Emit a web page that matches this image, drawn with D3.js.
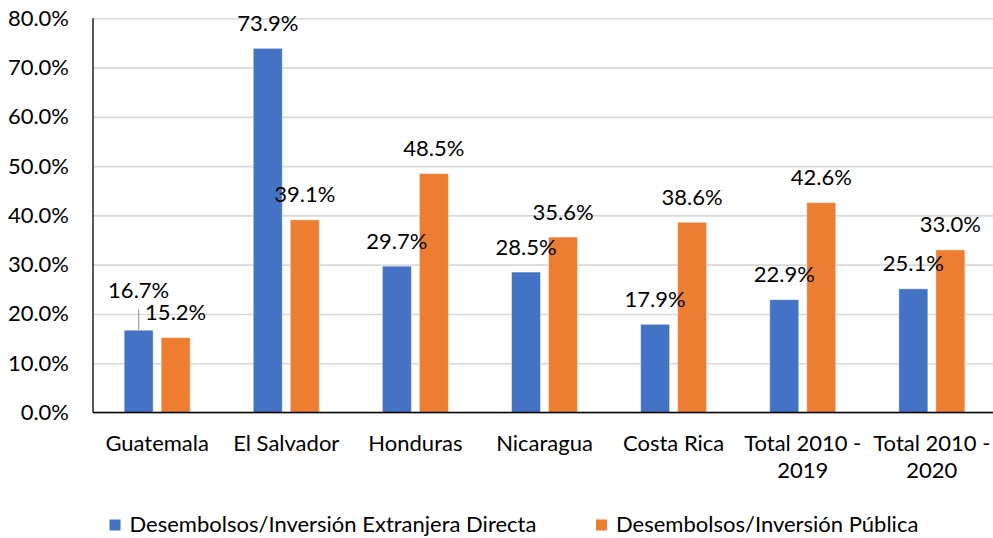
<!DOCTYPE html>
<html>
<head>
<meta charset="utf-8">
<script src="https://cdn.jsdelivr.net/npm/d3@7"></script>
<style>
  html, body { margin: 0; padding: 0; background: #fff; }
  svg { display: block; }
  text { font-family: Lato, "Open Sans", sans-serif; fill: #000; }
</style>
</head>
<body>
<svg id="chart" width="993" height="538"></svg>
<script>
// ---- data ----
const categories = ["Guatemala", "El Salvador", "Honduras", "Nicaragua", "Costa Rica", "Total 2010 - 2019", "Total 2010 - 2020"];
const seriesNames = ["Desembolsos/Inversión Extranjera Directa", "Desembolsos/Inversión Pública"];
const ied = [0.167, 0.739, 0.297, 0.285, 0.179, 0.229, 0.251];
const publica = [0.152, 0.391, 0.485, 0.356, 0.386, 0.426, 0.330];
const yTicks = [0, 0.1, 0.2, 0.3, 0.4, 0.5, 0.6, 0.7, 0.8];

// ---- layout / style ----
const colors = ["#4472C4", "#ED7D31"];
const plot = { left: 93, right: 997, top: 18.3, bottom: 412.5 };
// manual extra lift of some data labels (series index, category index, px)
const labelLift = [{ s: 0, c: 0, px: 14.5 }];

const svg = d3.select("#chart");

const y = d3.scaleLinear().domain([0, 0.8]).range([plot.bottom, plot.top]);
const x0 = d3.scaleBand().domain(categories).range([plot.left - 0.4, plot.right - 0.6]).padding(0);
const x1 = d3.scaleBand().domain([0, 1]).range([-33, 33]).paddingInner(8 / 37).paddingOuter(0);

// gridlines
const grid = svg.append("g")
  .attr("transform", `translate(${plot.left},0)`)
  .call(d3.axisLeft(y).tickValues(yTicks).tickSize(-(plot.right - plot.left)).tickFormat(""));
grid.select(".domain").remove();
grid.selectAll("line").attr("stroke", "#d9d9d9").attr("stroke-width", 1.6);

// y axis labels
const yAxis = svg.append("g")
  .attr("transform", `translate(${plot.left},0)`)
  .call(d3.axisLeft(y).tickValues(yTicks).tickSize(0).tickPadding(24).tickFormat(d3.format(".1%")));
yAxis.select(".domain").remove();
yAxis.selectAll("text").attr("font-size", 22).attr("font-family", "Lato").attr("fill", "#000");

// bars
const rows = categories.map((c, i) => ({ cat: c, i, vals: [ied[i], publica[i]] }));
const groups = svg.append("g").selectAll("g").data(rows).join("g")
  .attr("transform", d => `translate(${x0(d.cat) + x0.bandwidth() / 2},0)`);

groups.selectAll("rect").data(d => d.vals.map((v, s) => ({ v, s, c: d.i }))).join("rect")
  .attr("x", d => x1(d.s))
  .attr("width", x1.bandwidth())
  .attr("y", d => y(d.v))
  .attr("height", d => y(0) - y(d.v))
  .attr("fill", d => colors[d.s])
  .attr("stroke", "rgba(255,255,255,0.45)")
  .attr("stroke-width", 1);

// data labels
function lift(d) {
  const f = labelLift.find(l => l.s === d.s && l.c === d.c);
  return f ? f.px : 0;
}
groups.selectAll("line.leader").data(d => d.vals.map((v, s) => ({ v, s, c: d.i })).filter(d => lift(d) > 0)).join("line")
  .attr("class", "leader")
  .attr("x1", d => x1(d.s) + x1.bandwidth() / 2)
  .attr("x2", d => x1(d.s) + x1.bandwidth() / 2)
  .attr("y1", d => y(d.v))
  .attr("y2", d => y(d.v) - lift(d) - 6.5)
  .attr("stroke", "#a6a6a6")
  .attr("stroke-width", 1.3);

groups.selectAll("text.lbl").data(d => d.vals.map((v, s) => ({ v, s, c: d.i }))).join("text")
  .attr("class", "lbl")
  .attr("x", d => x1(d.s) + x1.bandwidth() / 2)
  .attr("y", d => y(d.v) - 17.5 - lift(d))
  .attr("text-anchor", "middle")
  .attr("font-size", 22)
  .text(d => d3.format(".1%")(d.v));

// axis lines
svg.append("line").attr("x1", plot.left).attr("x2", plot.left).attr("y1", plot.top).attr("y2", plot.bottom)
  .attr("stroke", "#000").attr("stroke-width", 1.3);
svg.append("line").attr("x1", plot.left).attr("x2", plot.right).attr("y1", plot.bottom).attr("y2", plot.bottom)
  .attr("stroke", "#000").attr("stroke-width", 1.3);

// x axis labels
const xAxis = svg.append("g")
  .attr("transform", `translate(0,${plot.bottom})`)
  .call(d3.axisBottom(x0).tickSize(0).tickPadding(0));
xAxis.select(".domain").remove();
xAxis.selectAll("text")
  .attr("font-size", 22).attr("font-family", "Lato").attr("fill", "#000")
  .attr("dy", null).attr("y", 0)
  .each(function (d) {
    const t = d3.select(this);
    const words = d.split(" ");
    t.text(null);
    let lines = [], cur = [];
    const tmp = t.append("tspan");
    words.forEach(w => {
      cur.push(w);
      tmp.text(cur.join(" "));
      if (tmp.node().getComputedTextLength() > 124 && cur.length > 1) {
        cur.pop();
        lines.push(cur.join(" "));
        cur = [w];
      }
    });
    lines.push(cur.join(" "));
    tmp.remove();
    lines.forEach((ln, k) => {
      t.append("tspan").attr("x", 0).attr("y", 38.5 + k * 27).text(ln);
    });
  });

// legend
const legend = svg.append("g");
const legX = [109.5, 596];
seriesNames.forEach((n, s) => {
  legend.append("rect").attr("x", legX[s]).attr("y", 519.5).attr("width", 11).attr("height", 11).attr("fill", colors[s]);
  legend.append("text").attr("x", legX[s] + 20).attr("y", 532).attr("font-size", 22).text(n);
});
</script>
</body>
</html>
